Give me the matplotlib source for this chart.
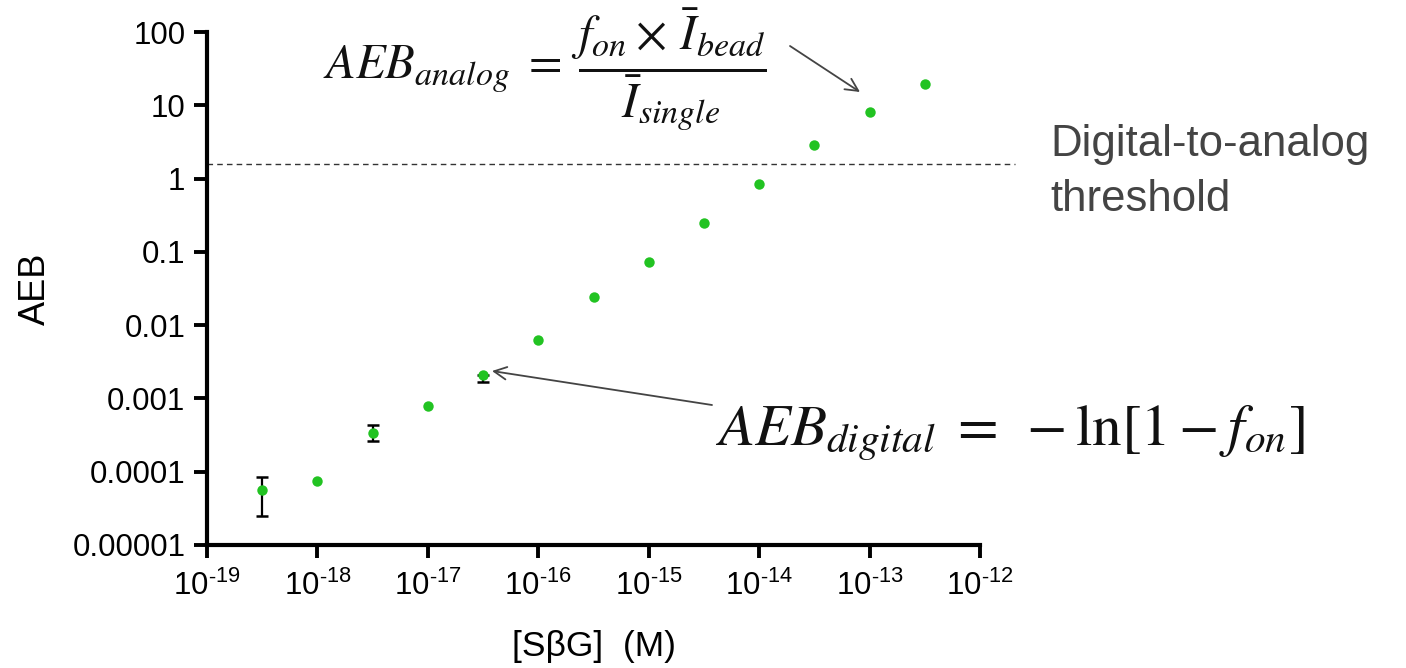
import numpy as np
import matplotlib as mpl

mpl.use("Agg")
import matplotlib.pyplot as plt
from matplotlib.ticker import FixedLocator, FixedFormatter

# AEB vs SbG concentration
conc = [10**-18.5, 1e-18, 10**-17.5, 1e-17, 10**-16.5, 1e-16, 10**-15.5,
        1e-15, 10**-14.5, 1e-14, 10**-13.5, 1e-13, 10**-12.5]
aeb = [5.6e-5, 7.4e-5, 3.4e-4, 7.9e-4, 2.1e-3, 6.3e-3, 0.024,
       0.072, 0.25, 0.85, 2.9, 8.1, 19.5]
err_lo = [3.1e-5, 0, 0.8e-4, 0, 0.4e-3, 0, 0, 0, 0, 0, 0, 0, 0]
err_hi = [2.9e-5, 0, 0.9e-4, 0, 0, 0, 0, 0, 0, 0, 0, 0, 0]
threshold = 1.6

x_exponents = [-19, -18, -17, -16, -15, -14, -13, -12]
ytick_vals = [1e-5, 1e-4, 1e-3, 1e-2, 1e-1, 1, 10, 100]
ytick_labels = ["0.00001", "0.0001", "0.001", "0.01", "0.1", "1", "10", "100"]

plt.rcParams["font.family"] = ["Liberation Sans", "DejaVu Sans"]
plt.rcParams["mathtext.fontset"] = "stix"
plt.rcParams["axes.unicode_minus"] = False

fig = plt.figure(figsize=(14.06, 6.68), dpi=100)
ax = fig.add_axes([207 / 1406, 1 - 545 / 668, 773 / 1406, 513 / 668])

green = "#22c322"
ax.plot(conc, aeb, "o", color=green, ms=7.5, mec="none", zorder=3)

has_err = [i for i in range(len(conc)) if err_lo[i] or err_hi[i]]
ax.errorbar([conc[i] for i in has_err], [aeb[i] for i in has_err],
            yerr=[[err_lo[i] for i in has_err], [err_hi[i] for i in has_err]],
            fmt="none", ecolor="black", elinewidth=1.6, capsize=4.5,
            capthick=1.8, zorder=2)

ax.set_xscale("log")
ax.set_yscale("log")
ax.set_xlim(1e-19, 1e-12)
ax.set_ylim(1e-5, 100)

xtick_vals = [10.0**e for e in x_exponents]
xtick_labels = [r"$\mathdefault{10^{\text{-}%d}}$" % -e for e in x_exponents]
ax.xaxis.set_major_locator(FixedLocator(xtick_vals))
ax.xaxis.set_major_formatter(FixedFormatter(xtick_labels))
ax.xaxis.set_minor_locator(FixedLocator([]))
ax.yaxis.set_major_locator(FixedLocator(ytick_vals))
ax.yaxis.set_major_formatter(FixedFormatter(ytick_labels))
ax.yaxis.set_minor_locator(FixedLocator([]))

for side in ("top", "right"):
    ax.spines[side].set_visible(False)
for side in ("left", "bottom"):
    ax.spines[side].set_linewidth(3.0)
ax.tick_params(which="major", direction="out", length=9.5, width=2.8,
               labelsize=22.5)
ax.tick_params(axis="y", pad=6)
ax.tick_params(axis="x", pad=9)

ax.set_xlabel("[S\u03b2G]  (M)", fontsize=25.5, labelpad=20)
ax.set_ylabel("AEB", fontsize=26, labelpad=14)

# digital-to-analog threshold, running past the right end of the axis
ax.plot([1e-19, 10**-11.68], [threshold, threshold], ls=(0, (4, 3)),
        color="#333333", lw=1.0, clip_on=False, zorder=1)
fig.text(1050 / 1406, 1 - 172 / 668, "Digital-to-analog\nthreshold",
         fontsize=31.5, color="#444444", va="center", ha="left",
         linespacing=1.42)

# formula annotations
fig.text(545 / 1406, 1 - 70 / 668,
         r"$AEB_{analog}\;=\;\dfrac{f_{on}\times\,\bar{I}_{bead}}{\bar{I}_{single}}$",
         fontsize=35, ha="center", va="center", color="#111111")
fig.text(1010 / 1406, 1 - 433 / 668,
         r"$AEB_{digital}\;=\;-\ln[1-f_{on}]$",
         fontsize=42.5, ha="center", va="center", color="#111111")

arrow = dict(arrowstyle="->,head_length=0.9,head_width=0.45",
             color="#444444", lw=1.3, shrinkA=0, shrinkB=0)
ax.annotate("", xy=(860, 668 - 92), xycoords="figure pixels",
            xytext=(790, 668 - 46), textcoords="figure pixels",
            arrowprops=arrow)
ax.annotate("", xy=(492, 668 - 371), xycoords="figure pixels",
            xytext=(712, 668 - 405), textcoords="figure pixels",
            arrowprops=arrow)

fig.savefig("out.png", dpi=100)
